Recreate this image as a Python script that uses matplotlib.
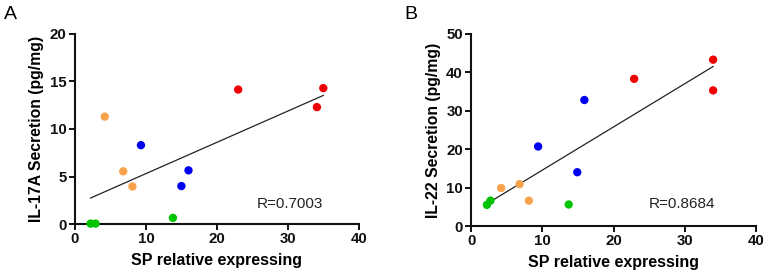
import numpy as np
import matplotlib
matplotlib.use("Agg")
import matplotlib.pyplot as plt

plt.rcParams['font.family'] = ['Liberation Sans', 'DejaVu Sans']

groups = ["red", "blue", "orange", "green"]
group_colors = ["#f00000", "#0000f0", "#f9a24c", "#00c400"]

# Panel A: SP vs IL-17A
a_x = {"red": [23.0, 34.1, 35.0], "blue": [9.3, 15.0, 16.0],
       "orange": [4.2, 6.8, 8.1], "green": [2.2, 2.9, 13.8]}
a_y = {"red": [14.15, 12.3, 14.3], "blue": [8.3, 4.0, 5.65],
       "orange": [11.3, 5.55, 3.95], "green": [0.05, 0.05, 0.65]}

# Panel B: SP vs IL-22
b_x = {"red": [22.9, 34.0, 34.0], "blue": [9.4, 14.9, 15.9],
       "orange": [4.2, 6.8, 8.1], "green": [2.2, 2.7, 13.7]}
b_y = {"red": [38.3, 43.3, 35.3], "blue": [20.7, 14.0, 32.8],
       "orange": [9.9, 10.9, 6.6], "green": [5.5, 6.6, 5.6]}

panels = [
    dict(letter="A", xs=a_x, ys=a_y, ylabel="IL-17A Secretion (pg/mg)",
         ylim=(0, 20), yticks=[0, 5, 10, 15, 20], r="R=0.7003",
         pos=[0.098, 0.194, 0.371, 0.684], rpos=(0.873, 0.105), lpos=(0.005, 0.978)),
    dict(letter="B", xs=b_x, ys=b_y, ylabel="IL-22 Secretion (pg/mg)",
         ylim=(0, 50), yticks=[0, 10, 20, 30, 40, 50], r="R=0.8684",
         pos=[0.616, 0.187, 0.372, 0.691], rpos=(0.856, 0.115), lpos=(0.528, 0.978)),
]

fig = plt.figure(figsize=(7.65, 2.78), dpi=100)
for p in panels:
    ax = fig.add_axes(p["pos"])
    allx, ally = [], []
    for g, c in zip(groups, group_colors):
        ax.scatter(p["xs"][g], p["ys"][g], s=36, color=c, edgecolors='none', zorder=3, clip_on=False)
        allx += p["xs"][g]
        ally += p["ys"][g]
    allx = np.array(allx); ally = np.array(ally)
    m, b = np.polyfit(allx, ally, 1)
    xx = np.array([allx.min(), allx.max()])
    ax.plot(xx, m * xx + b, color="#222222", lw=0.9, zorder=2)
    ax.set_xlim(0, 40)
    ax.set_ylim(*p["ylim"])
    ax.set_xticks([0, 10, 20, 30, 40])
    ax.set_yticks(p["yticks"])
    for s in ["top", "right"]:
        ax.spines[s].set_visible(False)
    for s in ["left", "bottom"]:
        ax.spines[s].set_linewidth(1.5)
        ax.spines[s].set_color("#111111")
    ax.tick_params(axis='both', direction='out', length=4, width=1.4, labelsize=10.8, pad=2, colors="#111111")
    for lab in ax.get_xticklabels() + ax.get_yticklabels():
        lab.set_fontweight("bold")
    ax.set_xlabel("SP relative expressing", fontsize=11.5, fontweight="bold", labelpad=5)
    ax.set_ylabel(p["ylabel"], fontsize=11.3, fontweight="bold", labelpad=4)
    ax.text(p["rpos"][0], p["rpos"][1], p["r"], transform=ax.transAxes, ha="right", va="center",
            fontsize=11, color="#222222")
    fig.text(p["lpos"][0], p["lpos"][1], p["letter"], ha="left", va="top", fontsize=14)

fig.savefig("out.png", dpi=100)
